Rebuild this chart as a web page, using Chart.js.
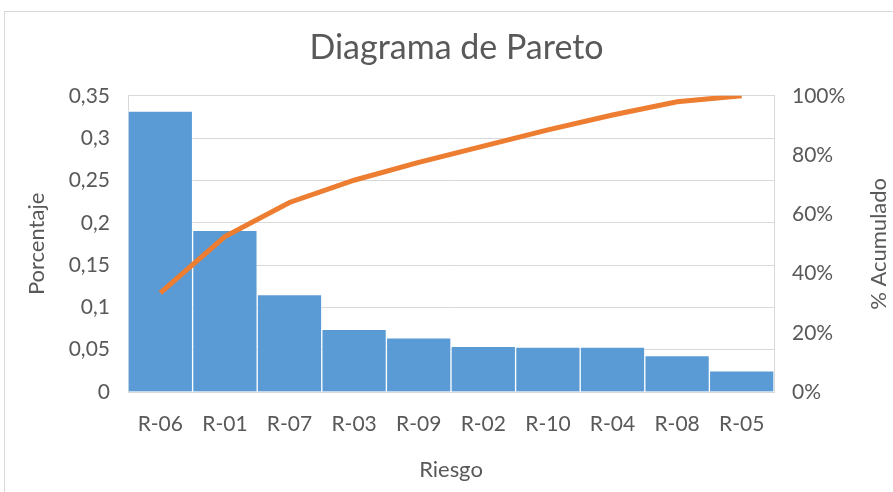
<!DOCTYPE html>
<html>
<head>
<meta charset="utf-8">
<script src="https://cdn.jsdelivr.net/npm/chart.js@4.4.0/dist/chart.umd.min.js"></script>
<style>
  body { margin: 0; background: #fff; }
  #wrap { position: relative; width: 893px; height: 492px; overflow: hidden; }
  #frame { position: absolute; left: 4px; top: 11px; width: 1000px; height: 600px; border: 1px solid #d9d9d9; }
  #mycanvas { position: absolute; left: 0; top: 0; }
</style>
</head>
<body>
<div id="wrap">
  <div id="frame"></div>
  <canvas id="mycanvas" width="893" height="492"></canvas>
</div>
<script>
// datos
var riesgos = ['R-06', 'R-01', 'R-07', 'R-03', 'R-09', 'R-02', 'R-10', 'R-04', 'R-08', 'R-05'];
var porcentaje = [0.332, 0.191, 0.115, 0.074, 0.064, 0.054, 0.053, 0.053, 0.043, 0.025];
var acumulado = [0.335, 0.525, 0.64, 0.715, 0.775, 0.83, 0.885, 0.935, 0.98, 1.0];

var gris = '#595959';
var linea = '#d9d9d9';
Chart.defaults.font.family = 'Lato, "Open Sans", sans-serif';
Chart.defaults.color = gris;

// titulo del eje derecho, leido de abajo hacia arriba como en Excel
var tituloDerecho = {
  id: 'tituloDerecho',
  afterDraw: function(chart) {
    var c = chart.ctx;
    var a = chart.chartArea;
    c.save();
    c.translate(879, (a.top + a.bottom) / 2);
    c.rotate(-Math.PI / 2);
    c.font = '22px Lato, "Open Sans", sans-serif';
    c.fillStyle = gris;
    c.textAlign = 'center';
    c.textBaseline = 'middle';
    c.fillText('% Acumulado', 0, 0);
    c.restore();
  }
};

var chartdata = {
  labels: riesgos,
  datasets: [
    {
      type: 'line',
      label: '% Acumulado',
      data: acumulado,
      yAxisID: 'y1',
      borderColor: '#ED7D31',
      borderWidth: 5,
      pointRadius: 0,
      tension: 0,
      order: 0
    },
    {
      type: 'bar',
      label: 'Porcentaje',
      data: porcentaje,
      yAxisID: 'y',
      backgroundColor: '#5B9BD5',
      borderColor: 'rgba(255, 255, 255, 0.45)',
      borderWidth: 1,
      categoryPercentage: 1.0,
      barPercentage: 1.0,
      order: 1
    }
  ]
};

var ctx = document.getElementById('mycanvas').getContext('2d');
var chart = new Chart(ctx, {
  type: 'bar',
  data: chartdata,
  plugins: [tituloDerecho],
  options: {
    responsive: false,
    animation: false,
    devicePixelRatio: 1,
    layout: { padding: { left: 20, right: 0, top: 0, bottom: 5 } },
    plugins: {
      legend: { display: false },
      tooltip: { enabled: false },
      title: {
        display: true,
        text: 'Diagrama de Pareto',
        color: gris,
        font: { size: 34, weight: 'normal' },
        padding: { top: 28, bottom: 27 }
      }
    },
    scales: {
      x: {
        grid: { display: false, drawTicks: false },
        border: { display: true, color: linea },
        ticks: { font: { size: 21 }, padding: 20, maxRotation: 0 },
        title: { display: true, text: 'Riesgo', font: { size: 22 } },
        afterFit: function(s) { s.height = 492 - 5 - 392; }
      },
      y: {
        position: 'left',
        min: 0,
        max: 0.35,
        ticks: {
          stepSize: 0.05,
          font: { size: 21 },
          padding: 18,
          callback: function(v) { return String(Math.round(v * 100) / 100).replace('.', ','); }
        },
        grid: { color: linea, drawTicks: false },
        border: { display: true, color: linea },
        title: { display: true, text: 'Porcentaje', font: { size: 22 } },
        afterFit: function(s) { s.width = 128 - 20; }
      },
      y1: {
        position: 'right',
        min: 0,
        max: 1,
        ticks: {
          stepSize: 0.2,
          font: { size: 21 },
          padding: 18,
          callback: function(v) { return Math.round(v * 100) + '%'; }
        },
        grid: { display: false, drawTicks: false },
        border: { display: true, color: linea },
        afterFit: function(s) { s.width = 893 - 774; }
      }
    }
  }
});
</script>
</body>
</html>
